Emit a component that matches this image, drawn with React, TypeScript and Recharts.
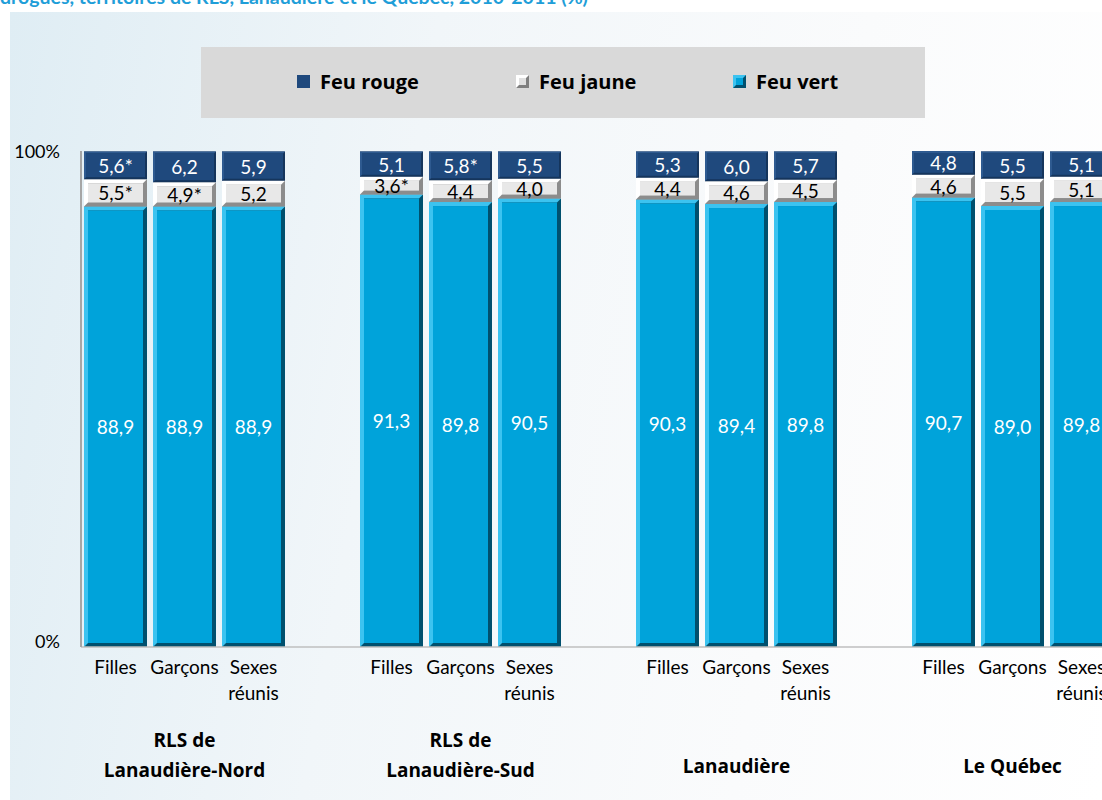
import { Bar, BarChart, LabelList, XAxis, YAxis } from "recharts"

const groups = ["RLS de\nLanaudière-Nord", "RLS de\nLanaudière-Sud", "Lanaudière", "Le Québec"]
const sexes = ["Filles", "Garçons", "Sexes\nréunis"]

// one value per bar, group by group (Filles, Garçons, Sexes réunis)
const feuVert = [88.9, 88.9, 88.9, 91.3, 89.8, 90.5, 90.3, 89.4, 89.8, 90.7, 89.0, 89.8]
const feuJaune = [5.5, 4.9, 5.2, 3.6, 4.4, 4.0, 4.4, 4.6, 4.5, 4.6, 5.5, 5.1]
const feuRouge = [5.6, 6.2, 5.9, 5.1, 5.8, 5.5, 5.3, 6.0, 5.7, 4.8, 5.5, 5.1]
// * = coefficient de variation élevé
const jauneStar = [true, true, false, true, false, false, false, false, false, false, false, false]
const rougeStar = [true, false, false, false, true, false, false, false, false, false, false, false]

const yTicks = [0, 100]

const fmt = (v: number, star: boolean) => v.toFixed(1).replace(".", ",") + (star ? "*" : "")

const data: any[] = []
groups.forEach((g, gi) => {
  sexes.forEach((s, si) => {
    const i = gi * sexes.length + si
    data.push({
      key: `${gi}-${si}`,
      sex: s,
      group: si === 1 ? g : "",
      vert: feuVert[i],
      jaune: feuJaune[i],
      rouge: feuRouge[i],
      vertLabel: fmt(feuVert[i], false),
      jauneLabel: fmt(feuJaune[i], jauneStar[i]),
      rougeLabel: fmt(feuRouge[i], rougeStar[i]),
    })
  })
  // empty slot between groups
  if (gi < groups.length - 1) data.push({ key: `gap${gi}`, sex: "", group: "" })
})

const FONT = "Lato, 'Open Sans', sans-serif"
const BOLD = "'Open Sans', Lato, sans-serif"

function bevel(face: string, light: string, dark: string, b: number) {
  return (props: any) => {
    const { x, y, width, height } = props
    if (!width || !height) return null
    return (
      <g>
        <rect x={x} y={y} width={width} height={height} fill={dark} />
        <polygon
          points={`${x},${y} ${x + width},${y} ${x + width - b},${y + b} ${x + b},${y + b} ${x + b},${y + height - b} ${x},${y + height}`}
          fill={light}
        />
        <rect x={x + b} y={y + b} width={width - 2 * b} height={height - 2 * b} fill={face} />
      </g>
    )
  }
}

const VertShape = bevel("#00a3da", "#3cc3f0", "#00506e", 4)
const JauneShape = bevel("#e8e8e8", "#ffffff", "#8c8c8c", 4)
const RougeShape = bevel("#1f497d", "#2e5a90", "#15355c", 2)

function segLabel(color: string, dy = 0) {
  return (props: any) => {
    const { x, y, width, height, value } = props
    if (value == null || value === "") return null
    return (
      <text
        x={x + width / 2}
        y={y + height / 2 + dy}
        textAnchor="middle"
        dominantBaseline="central"
        fill={color}
        fontSize={19}
        fontFamily={FONT}
      >
        {value}
      </text>
    )
  }
}

function XTick(props: any) {
  const { x, y, index } = props
  const row = data[index]
  if (!row) return null
  const sexLines = row.sex ? row.sex.split("\n") : []
  const grpLines = row.group ? row.group.split("\n") : []
  return (
    <g>
      {sexLines.map((l: string, i: number) => (
        <text key={"s" + i} x={x} y={y + 27 + i * 26} textAnchor="middle" fill="#000" fontFamily={FONT} fontSize={19}>
          {l}
        </text>
      ))}
      {grpLines.map((l: string, i: number) => (
        <text
          key={"g" + i}
          x={x}
          y={y + (grpLines.length === 2 ? 100 + i * 30 : 126)}
          textAnchor="middle"
          fontWeight={700}
          fontFamily={BOLD}
          fontSize={19}
          fill="#000"
        >
          {l}
        </text>
      ))}
    </g>
  )
}

function YTick(props: any) {
  const { y, payload } = props
  return (
    <text
      x={60}
      y={y + (payload.value === 0 ? -6 : 0)}
      textAnchor="end"
      dominantBaseline="central"
      fontSize={18}
      fontFamily={FONT}
      fill="#000"
    >
      {payload.value}%
    </text>
  )
}

function LegendIcon({ kind }: { kind: string }) {
  if (kind === "rouge")
    return (
      <svg width={13} height={13}>
        <rect width={13} height={13} fill="#1f497d" />
      </svg>
    )
  const face = kind === "jaune" ? "#e0e0e0" : "#00a3da"
  const light = kind === "jaune" ? "#ffffff" : "#3cc3f0"
  const dark = kind === "jaune" ? "#7f7f7f" : "#00506e"
  return (
    <svg width={13} height={13}>
      <rect width={13} height={13} fill={dark} />
      <polygon points="0,0 13,0 10,3 3,3 3,10 0,13" fill={light} />
      <rect x={3} y={3} width={7} height={7} fill={face} />
    </svg>
  )
}

const legendItems = [
  { kind: "rouge", label: "Feu rouge", left: 297 },
  { kind: "jaune", label: "Feu jaune", left: 516 },
  { kind: "vert", label: "Feu vert", left: 733 },
]

export default function App() {
  return (
    <div style={{ position: "fixed", left: 0, top: 0, width: 1102, height: 800, overflow: "hidden", background: "#fff" }}>
      <div
        style={{
          position: "absolute",
          left: 10,
          top: 12,
          right: 0,
          bottom: 0,
          background: "linear-gradient(100deg, #dfedf4 0%, #f1f6f9 35%, #fafbfc 70%, #ffffff 100%)",
        }}
      />
      <div
        style={{
          position: "absolute",
          left: 0,
          top: -15,
          fontFamily: FONT,
          fontWeight: 700,
          fontSize: 19.5,
          color: "#1f9ed8",
          whiteSpace: "nowrap",
        }}
      >
        drogues, territoires de RLS, Lanaudière et le Québec, 2010-2011 (%)
      </div>
      <div style={{ position: "absolute", left: 201, top: 47, width: 724, height: 71, background: "#d9d9d9" }}>
        {legendItems.map((it) => (
          <div
            key={it.kind}
            style={{
              position: "absolute",
              left: it.left - 201,
              top: 21,
              display: "flex",
              alignItems: "center",
              gap: 10,
              fontFamily: BOLD,
              fontWeight: 700,
              fontSize: 20,
              color: "#000",
            }}
          >
            <LegendIcon kind={it.kind} />
            <span>{it.label}</span>
          </div>
        ))}
      </div>
      <div style={{ position: "absolute", left: 0, top: 0 }}>
        <BarChart width={1116} height={800} data={data} margin={{ top: 151, right: 0, left: 0, bottom: 0 }} barSize={63}>
          <XAxis
            dataKey="key"
            height={153}
            interval={0}
            tickLine={false}
            tickSize={0}
            tickMargin={0}
            tick={<XTick />}
            axisLine={{ stroke: "#bfbfbf", strokeWidth: 1.5 }}
          />
          <YAxis
            width={81}
            domain={[0, 100]}
            ticks={yTicks}
            tickLine={false}
            tick={<YTick />}
            axisLine={{ stroke: "#a6a6a6", strokeWidth: 2 }}
          />
          <Bar dataKey="vert" stackId="a" shape={VertShape} isAnimationActive={false}>
            <LabelList dataKey="vertLabel" content={segLabel("#ffffff")} />
          </Bar>
          <Bar dataKey="jaune" stackId="a" shape={JauneShape} isAnimationActive={false}>
            <LabelList dataKey="jauneLabel" content={segLabel("#000000")} />
          </Bar>
          <Bar dataKey="rouge" stackId="a" shape={RougeShape} isAnimationActive={false}>
            <LabelList dataKey="rougeLabel" content={segLabel("#ffffff")} />
          </Bar>
        </BarChart>
      </div>
    </div>
  )
}
